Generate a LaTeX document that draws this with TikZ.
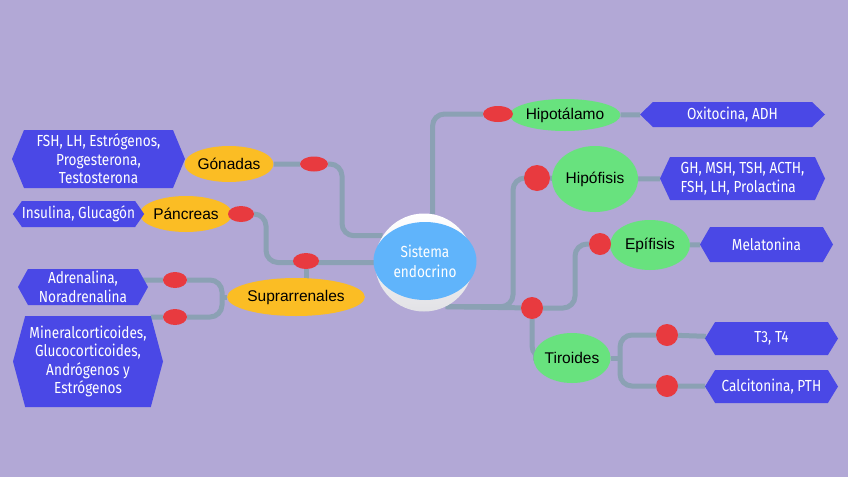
\documentclass[tikz,border=0pt]{standalone}
\usepackage{fontspec}
\setmainfont{Liberation Sans}
\newfontfamily\firafont[FakeStretch=0.85]{Fira Sans}
\usetikzlibrary{shapes.geometric,shapes.symbols,backgrounds}

\definecolor{fondo}{HTML}{B2A8D6}
\definecolor{tubo}{HTML}{8BA1B4}
\definecolor{rojo}{HTML}{E83A3F}
\definecolor{naranja}{HTML}{FBBD24}
\definecolor{verde}{HTML}{68E27E}
\definecolor{azulhex}{HTML}{4A48E6}
\definecolor{azulcen}{HTML}{60B4FB}
\definecolor{aro}{HTML}{E2E2E6}

\pgfdeclarelayer{lineas}
\pgfsetlayers{background,lineas,main}

\begin{document}
\begin{tikzpicture}[x=1pt, y=-1pt,
  hormona/.style={signal, signal to=east and west, fill=azulhex, text=white,
    align=center, inner sep=0pt, font=\firafont\fontsize{16}{18.5}\selectfont},
  glandula/.style={ellipse, inner sep=0pt, font=\fontsize{15.5}{18}\selectfont},
  punto/.style={ellipse, fill=rojo, inner sep=0pt},
  tubo/.style={draw=tubo, line width=5pt, rounded corners=12pt}]
  \begin{pgfonlayer}{background}
    \fill[fondo] (0,0) rectangle (848,477);
  \end{pgfonlayer}
  \useasboundingbox (0,0) rectangle (848,477);

  % centro
  \node (sis) [circle, top color=white, bottom color=aro, minimum size=98pt]
    at (424,262.5) {};
  \node (sisin) [ellipse, fill=azulcen, minimum width=103pt, minimum height=78pt,
                 text=white, align=center, font=\firafont\fontsize{16}{20}\selectfont]
    at (425,261) {Sistema\\endocrino};

  % lado izquierdo
  \node (gon) [glandula, fill=naranja, minimum width=88pt, minimum height=36pt]
    at (229,164) {Gónadas};
  \node (pan) [glandula, fill=naranja, minimum width=88pt, minimum height=36pt]
    at (186,214) {Páncreas};
  \node (sup) [glandula, fill=naranja, minimum width=132pt, minimum height=38pt]
    at (296,297) {Suprarrenales};
  \node (dgon) [punto, minimum width=28pt, minimum height=15pt] at (314,164) {};
  \node (dpan) [punto, minimum width=26pt, minimum height=16pt] at (241,214) {};
  \node (dsup) [punto, minimum width=26pt, minimum height=16pt] at (306,261) {};
  \node (dsa) [punto, minimum width=24pt, minimum height=16pt] at (175,280) {};
  \node (dsm) [punto, minimum width=24pt, minimum height=16pt] at (175,317) {};

  \node (hexG) [hormona, minimum width=173pt, minimum height=58pt,
                signal pointer angle=135] at (98.5,159)
    {FSH, LH, Estrógenos,\\Progesterona,\\Testosterona};
  \node (hexP) [hormona, minimum width=131pt, minimum height=26pt,
                signal pointer angle=110] at (78.5,214) {Insulina, Glucagón};
  \node (hexA) [hormona, minimum width=130pt, minimum height=36pt,
                signal pointer angle=122] at (83,287) {Adrenalina,\\Noradrenalina};
  \node (hexM) [hormona, minimum width=150pt, minimum height=91pt,
                signal pointer angle=150] at (88,361.5)
    {Mineralcorticoides,\\Glucocorticoides,\\Andrógenos y\\Estrógenos};

  % lado derecho
  \node (hip) [glandula, fill=verde, minimum width=104pt, minimum height=32pt]
    at (565,115) {Hipotálamo};
  \node (hipo) [glandula, fill=verde, minimum width=86pt, minimum height=66pt]
    at (595,179) {Hipófisis};
  \node (epi) [glandula, fill=verde, minimum width=80pt, minimum height=50pt]
    at (650,245) {Epífisis};
  \node (tir) [glandula, fill=verde, minimum width=76pt, minimum height=50pt]
    at (572,358) {Tiroides};
  \node (dhip) [punto, minimum width=30pt, minimum height=16pt] at (498,114) {};
  \node (dhipo) [punto, circle, minimum size=26pt] at (537,178) {};
  \node (depi) [punto, circle, minimum size=22pt] at (600,244) {};
  \node (dder) [punto, circle, minimum size=22pt] at (532,308) {};
  \node (dt3) [punto, circle, minimum size=22pt] at (667,335) {};
  \node (dcal) [punto, circle, minimum size=22pt] at (667,386) {};

  \node (hexO) [hormona, minimum width=185pt, minimum height=25pt,
                signal pointer angle=88] at (732.5,114.5) {Oxitocina, ADH};
  \node (hexH) [hormona, minimum width=165pt, minimum height=43pt, align=left,
                signal pointer angle=130] at (742.5,178.5)
    {GH, MSH, TSH, ACTH,\\FSH, LH, Prolactina};
  \node (hexMel) [hormona, minimum width=133pt, minimum height=35pt,
                  signal pointer angle=120] at (766.5,244.5) {Melatonina};
  \node (hexT) [hormona, minimum width=133pt, minimum height=33pt,
                signal pointer angle=117] at (771.5,338.5) {T3, T4};
  \node (hexC) [hormona, minimum width=133pt, minimum height=33pt,
                signal pointer angle=117] at (771.5,386.5) {Calcitonina, PTH};

  % conectores
  \begin{pgfonlayer}{lineas}
    \draw[tubo] (gon) -- (dgon) -- (342,164) |- (sis.147);
    \draw[tubo] (pan) -- (dpan) -- (266,214) |- (sis);
    \draw[tubo] (dsup) -- (dsup |- sup);
    \draw[tubo] (dsa -| hexA) -- (dsa) -- (222,280) -- (222,317) -- (dsm)
      -- (dsm -| hexM.north east);
    \draw[tubo] (sup) -- (222,297);
    \draw[tubo] (hexO) -- (hip) -- (dhip) -| (sis.80);
    \draw[tubo] (hexH) -- (hipo) -- (dhipo) -- (513,178) |- (sis.-64);
    \draw[tubo] (sis.-64) -- (dder);
    \draw[tubo] (dder) -- (575,308) |- (depi) -- (epi) -- (hexMel);
    \draw[tubo] (dder) |- (tir);
    \draw[tubo] (tir) -- (620,358);
    \draw[tubo] (hexT) -- (dt3) -- (620,335) -- (620,386) -- (dcal) -- (hexC);
  \end{pgfonlayer}
\end{tikzpicture}
\end{document}
